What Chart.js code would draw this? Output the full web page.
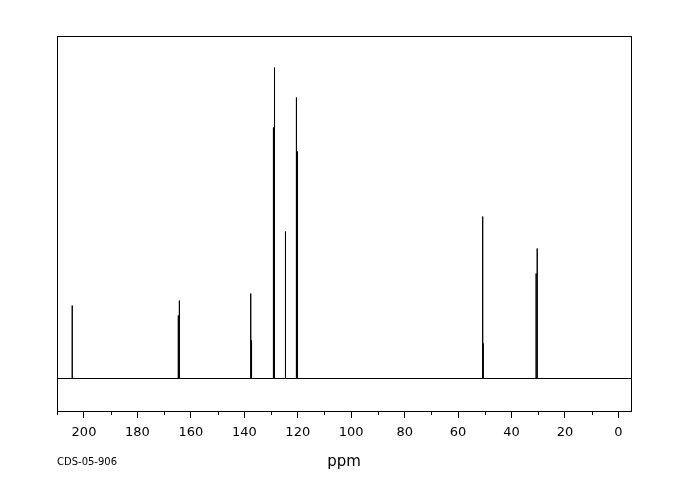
<!DOCTYPE html>
<html lang="en">
<head>
  <meta charset="UTF-8" />
  <title>CDS-05-906</title>
  <script src="https://cdn.jsdelivr.net/npm/chart.js"></script>
  <style>
    html, body {
      margin: 0;
      padding: 0;
      background: #ffffff;
    }
    #wrap {
      width: 680px;
      height: 500px;
    }
  </style>
</head>
<body>
  <div id="wrap"><canvas id="spec" width="680" height="500"></canvas></div>

  <script>
    // peak positions (ppm) and relative heights
    const peakPpm    = [204.4, 164.7, 164.3, 137.6, 137.3, 129.1, 128.7, 124.6, 120.5, 120.1, 50.8, 50.6, 30.8, 30.4];
    const peakHeight = [73,    63,    78,    85,    38,    251,   311,   147,   281,   227,   162,  35,   105,  130];

    const ppmLeft = 210.1;
    const ppmRight = -4.7;
    const sampleId = "CDS-05-906";

    // build a stick spectrum: baseline, then up/down for each peak
    const points = [{ x: ppmLeft, y: 0 }];
    peakPpm.forEach((p, i) => {
      points.push({ x: p, y: 0 });
      points.push({ x: p, y: peakHeight[i] });
      points.push({ x: p, y: 0 });
    });
    points.push({ x: ppmRight, y: 0 });

    // frame round the plot, short minor ticks, sample id
    const framePlugin = {
      id: 'frame',
      afterDraw(chart) {
        const ctx = chart.ctx;
        const a = chart.chartArea;
        const xs = chart.scales.x;
        ctx.save();
        ctx.strokeStyle = '#000';
        ctx.lineWidth = 1;
        ctx.strokeRect(Math.round(a.left) + 0.5, Math.round(a.top) + 0.5,
                       Math.round(a.right - a.left), Math.round(a.bottom - a.top));
        ctx.beginPath();
        xs.ticks.forEach(t => {
          if (t.value % 20 !== 0) {
            const px = Math.round(xs.getPixelForValue(t.value)) + 0.5;
            ctx.moveTo(px, a.bottom);
            ctx.lineTo(px, a.bottom + 4);
          }
        });
        ctx.stroke();
        ctx.fillStyle = '#000';
        ctx.font = '10px "DejaVu Sans"';
        ctx.textBaseline = 'middle';
        ctx.fillText(sampleId, 57, 462);
        ctx.restore();
      }
    };

    new Chart(document.getElementById('spec'), {
      type: 'scatter',
      data: {
        datasets: [{
          data: points,
          showLine: true,
          borderColor: '#000',
          borderWidth: 1,
          pointRadius: 0,
          tension: 0
        }]
      },
      options: {
        responsive: false,
        animation: false,
        layout: { padding: { left: 57, right: 49, top: 36, bottom: 0 } },
        plugins: {
          legend: { display: false },
          tooltip: { enabled: false }
        },
        scales: {
          x: {
            type: 'linear',
            min: ppmRight,
            max: ppmLeft,
            reverse: true,
            afterFit: s => { s.height = 89; },
            border: { display: false },
            grid: {
              drawOnChartArea: false,
              tickLength: 7,
              color: c => (c.tick && c.tick.value % 20 === 0) ? '#000' : 'rgba(0,0,0,0)'
            },
            ticks: {
              stepSize: 10,
              includeBounds: false,
              autoSkip: false,
              maxRotation: 0,
              padding: 7,
              color: '#000',
              font: { family: 'DejaVu Sans', size: 13 },
              callback: v => (v % 20 === 0 ? String(v) : '')
            },
            title: {
              display: true,
              text: 'ppm',
              color: '#000',
              font: { family: 'DejaVu Sans', size: 15 },
              padding: { top: 4, bottom: 29 }
            }
          },
          y: {
            display: false,
            min: -32.5,
            max: 342.5
          }
        }
      },
      plugins: [framePlugin]
    });
  </script>
</body>
</html>
